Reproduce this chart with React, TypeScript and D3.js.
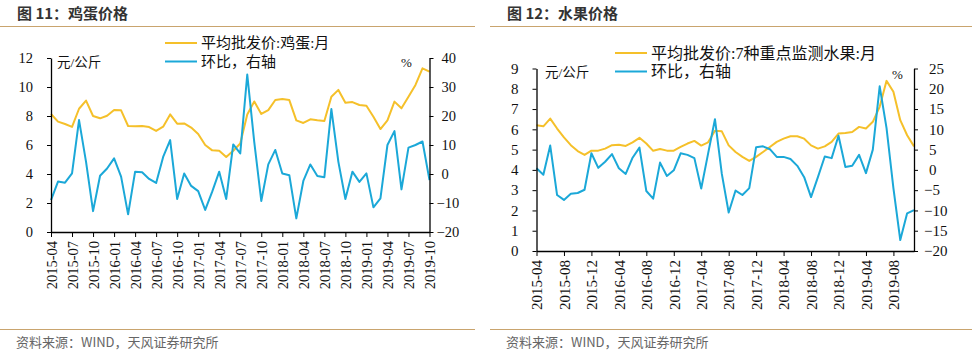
import React, { useEffect, useRef } from 'react';
import * as d3 from 'd3';

// Month categories
const eggMonths: string[] = d3.timeMonth
  .range(new Date(2015, 3, 1), new Date(2019, 10, 1))
  .map(d3.timeFormat('%Y-%m'));
const fruitMonths: string[] = d3.timeMonth
  .range(new Date(2015, 3, 1), new Date(2019, 11, 1))
  .map(d3.timeFormat('%Y-%m'));

// Tick labels
const eggTicks = [
  '2015-04', '2015-07', '2015-10', '2016-01', '2016-04', '2016-07', '2016-10',
  '2017-01', '2017-04', '2017-07', '2017-10', '2018-01', '2018-04', '2018-07',
  '2018-10', '2019-01', '2019-04', '2019-07', '2019-10',
];
const fruitTicks = [
  '2015-04', '2015-08', '2015-12', '2016-04', '2016-08', '2016-12', '2017-04',
  '2017-08', '2017-12', '2018-04', '2018-08', '2018-12', '2019-04', '2019-08',
];

// Egg: average wholesale price (yuan/kg), left axis
const eggPrice = [
  8.14, 7.61, 7.45, 7.25, 8.5, 9.06, 8.0, 7.84, 8.02, 8.41, 8.39, 7.31, 7.29, 7.31,
  7.24, 6.97, 7.26, 8.11, 7.47, 7.49, 7.2, 6.76, 6.0, 5.63, 5.6, 5.17, 5.6, 6.1,
  8.1, 9.0, 8.14, 8.41, 9.1, 9.17, 9.1, 7.7, 7.52, 7.77, 7.7, 7.66, 9.33, 9.8,
  8.92, 8.96, 8.76, 8.71, 7.95, 7.1, 7.7, 8.99, 8.53, 9.33, 10.14, 11.29, 11.06,
];
// Egg: month-on-month change (%), right axis
const eggMoM = [
  -9, -2.6, -3.0, 0.2, 18.6, 4.2, -12.8, -0.6, 1.9, 5.4, -0.9, -13.9, 0.8, 0.6,
  -1.7, -3.1, 5.9, 11.7, -8.6, 0.2, -4.1, -5.9, -12.4, -6.1, 0.8, -8.6, 10.2, 7.1,
  34.3, 11, -9.3, 3.3, 8.3, 0.2, -0.4, -15.3, -2.4, 3.3, -0.7, -1.1, 22.4, 4.2,
  -8.6, 0.8, -2.7, 0.2, -11.5, -8.4, 10.0, 14.8, -5.3, 9.1, 10, 11.2, -2.1,
];

// Fruit: average wholesale price of 7 key fruits (yuan/kg), left axis
const fruitPrice = [
  6.2, 6.15, 6.53, 6.04, 5.6, 5.22, 4.93, 4.74, 4.95, 4.95, 5.05, 5.22, 5.24, 5.18,
  5.36, 5.58, 5.3, 4.94, 5.03, 4.95, 4.95, 5.13, 5.3, 5.43, 5.2, 5.36, 5.93, 5.9,
  5.21, 4.88, 4.64, 4.44, 4.64, 4.88, 5.13, 5.38, 5.54, 5.66, 5.66, 5.54, 5.21, 5.05,
  5.16, 5.38, 5.79, 5.82, 5.87, 6.12, 6.04, 6.37, 7.11, 8.39, 7.85, 6.45, 5.71, 5.16,
];
// Fruit: month-on-month change (%), right axis
const fruitMoM = [
  0.4, -1.2, 6.0, -6.2, -7.4, -5.9, -5.7, -4.9, 4.1, 0.5, 2.0, 3.9, 0.4, -1.0,
  3.0, 5.5, -5.2, -7.1, 1.8, -1.5, -0.1, 4.1, 3.7, 2.9, -4.6, 4.0, 12.5, -1.0,
  -10.5, -5.1, -6.2, -4.5, 5.6, 5.8, 5.1, 3.2, 3.2, 2.7, 1.0, -1.8, -6.7, -1.8,
  3.3, 2.9, 8.4, 0.7, 1.0, 3.7, -0.8, 5.0, 20.6, 10.3, -4.5, -17.3, -10.7, -9.9,
];

const SERIF = '"Liberation Serif", "Times New Roman", "Noto Sans CJK SC", serif';
const CJK = '"Liberation Serif", "Noto Sans CJK SC", sans-serif';
const YELLOW = '#F5C02A';
const BLUE = '#1BA8D8';
const RULE = '#C9A46E';

interface PanelCfg {
  ox: number;
  ruleW: number;
  title: string;
  months: string[];
  ticks: string[];
  price: number[];
  mom: number[];
  legendPrice: string;
  left: number;
  right: number;
  top: number;
  bottom: number;
  leftTicks: number[];
  rightTicks: number[];
  rightPad: number;
  tickFont: number;
  legendX: number;
  legendY: number;
  legendFont: number;
  unitX: number;
  unitY: number;
  pctX: number;
  pctY: number;
}

const panels: PanelCfg[] = [
  {
    ox: 0, ruleW: 475, title: '图 11：鸡蛋价格',
    months: eggMonths, ticks: eggTicks, price: eggPrice, mom: eggMoM,
    legendPrice: '平均批发价:鸡蛋:月',
    left: 51, right: 429.5, top: 58, bottom: 232,
    leftTicks: d3.range(0, 13, 2), rightTicks: d3.range(-20, 41, 10),
    rightPad: 12, tickFont: 14.5,
    legendX: 165, legendY: 43, legendFont: 15,
    unitX: 57, unitY: 62, pctX: 401, pctY: 62,
  },
  {
    ox: 490, ruleW: 482, title: '图 12：水果价格',
    months: fruitMonths, ticks: fruitTicks, price: fruitPrice, mom: fruitMoM,
    legendPrice: '平均批发价:7种重点监测水果:月',
    left: 536.5, right: 914, top: 68.5, bottom: 251,
    leftTicks: d3.range(0, 10, 1), rightTicks: d3.range(-20, 26, 5),
    rightPad: 15, tickFont: 15,
    legendX: 615, legendY: 53, legendFont: 16,
    unitX: 545, unitY: 72, pctX: 892, pctY: 74,
  },
];

function drawPanel(svg: d3.Selection<SVGSVGElement, unknown, null, undefined>, p: PanelCfg) {
  const g = svg.append('g');

  // Title and rules
  g.append('text')
    .attr('x', p.ox + 17).attr('y', 19)
    .attr('font-family', '"Noto Sans CJK SC", sans-serif')
    .attr('font-weight', 'bold').attr('font-size', 15)
    .attr('fill', '#333')
    .text(p.title);
  g.append('line')
    .attr('x1', p.ox).attr('x2', p.ox + p.ruleW)
    .attr('y1', 26.5).attr('y2', 26.5)
    .attr('stroke', RULE).attr('stroke-width', 1);
  g.append('line')
    .attr('x1', p.ox).attr('x2', p.ox + p.ruleW)
    .attr('y1', 329.5).attr('y2', 329.5)
    .attr('stroke', RULE).attr('stroke-width', 1);
  g.append('text')
    .attr('x', p.ox + 16).attr('y', 347)
    .attr('font-family', '"Noto Sans CJK SC", sans-serif')
    .attr('font-size', 13).attr('fill', '#666')
    .text('资料来源：WIND，天风证券研究所');

  // Scales
  const x = d3.scaleLinear().domain([0, p.months.length - 1]).range([p.left, p.right]);
  const yL = d3.scaleLinear()
    .domain([p.leftTicks[0], p.leftTicks[p.leftTicks.length - 1]])
    .range([p.bottom, p.top]);
  const yR = d3.scaleLinear()
    .domain([p.rightTicks[0], p.rightTicks[p.rightTicks.length - 1]])
    .range([p.bottom, p.top]);

  // Lines
  const priceLine = d3.line<number>().x((_, i) => x(i)).y(d => yL(d));
  const momLine = d3.line<number>().x((_, i) => x(i)).y(d => yR(d));
  g.append('path')
    .datum(p.price)
    .attr('d', priceLine)
    .attr('fill', 'none').attr('stroke', YELLOW)
    .attr('stroke-width', 2).attr('stroke-linejoin', 'round');
  g.append('path')
    .datum(p.mom)
    .attr('d', momLine)
    .attr('fill', 'none').attr('stroke', BLUE)
    .attr('stroke-width', 2).attr('stroke-linejoin', 'round');

  // Bottom axis
  const xAxis = d3.axisBottom(x)
    .tickValues(p.ticks.map(t => p.months.indexOf(t)))
    .tickFormat(i => p.months[i as number])
    .tickSize(5).tickSizeOuter(0);
  const gx = g.append('g')
    .attr('transform', `translate(0,${p.bottom})`)
    .call(xAxis);
  gx.selectAll('text')
    .attr('transform', 'rotate(-90)')
    .attr('x', -9).attr('y', 0).attr('dy', '0.35em')
    .style('text-anchor', 'end');

  // Left axis
  const gl = g.append('g')
    .attr('transform', `translate(${p.left},0)`)
    .call(d3.axisLeft(yL).tickValues(p.leftTicks).tickFormat(d3.format('d'))
      .tickSize(4).tickSizeOuter(0).tickPadding(14));

  // Right axis
  const gr = g.append('g')
    .attr('transform', `translate(${p.right},0)`)
    .call(d3.axisRight(yR).tickValues(p.rightTicks).tickFormat(d3.format('d'))
      .tickSize(4).tickSizeOuter(0));
  gr.selectAll<SVGTextElement, number>('text')
    .attr('x', d => (d < 0 ? p.rightPad - 5 : p.rightPad));

  [gx, gl, gr].forEach(a => {
    a.attr('font-family', SERIF).attr('font-size', p.tickFont);
    a.selectAll('text').attr('fill', '#111');
    a.selectAll('line').attr('stroke', '#000');
    a.select('.domain').attr('stroke', '#000').attr('stroke-width', 1.3);
  });

  // Units
  g.append('text')
    .attr('x', p.unitX).attr('y', p.unitY).attr('dy', '0.35em')
    .attr('font-family', CJK).attr('font-size', 13.5).attr('fill', '#111')
    .text('元/公斤');
  g.append('text')
    .attr('x', p.pctX).attr('y', p.pctY).attr('dy', '0.35em')
    .attr('font-family', SERIF).attr('font-size', 13).attr('fill', '#111')
    .text('%');

  // Legend
  const legend = [
    { label: p.legendPrice, color: YELLOW },
    { label: '环比，右轴', color: BLUE },
  ];
  legend.forEach((item, i) => {
    const ly = p.legendY + i * 18.5;
    g.append('line')
      .attr('x1', p.legendX).attr('x2', p.legendX + 32)
      .attr('y1', ly).attr('y2', ly)
      .attr('stroke', item.color).attr('stroke-width', 2);
    g.append('text')
      .attr('x', p.legendX + 36).attr('y', ly).attr('dy', '0.36em')
      .attr('font-family', CJK).attr('font-size', p.legendFont).attr('fill', '#111')
      .text(item.label);
  });
}

const App: React.FC = () => {
  const svgRef = useRef<SVGSVGElement>(null);

  useEffect(() => {
    if (!svgRef.current) return;
    const svg = d3.select(svgRef.current);
    svg.selectAll('*').remove();
    panels.forEach(p => drawPanel(svg, p));
  }, []);

  return (
    <div style={{ position: 'absolute', left: 0, top: 0 }}>
      <svg ref={svgRef} width={972} height={360} style={{ display: 'block', background: '#fff' }} />
    </div>
  );
};

export default App;
